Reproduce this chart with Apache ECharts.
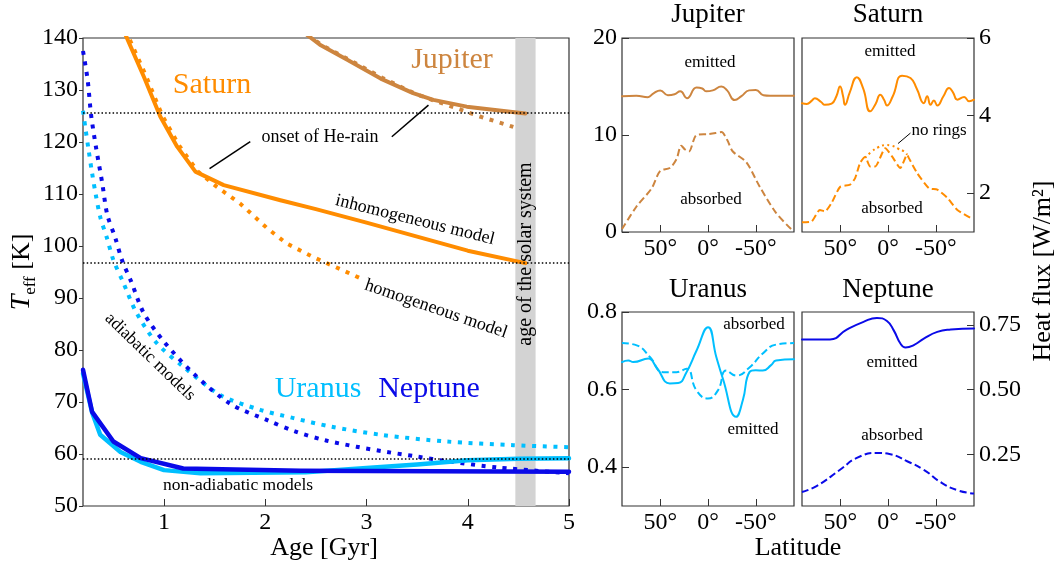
<!DOCTYPE html>
<html>
<head>
<meta charset="utf-8">
<script src="https://cdn.jsdelivr.net/npm/echarts@6/dist/echarts.min.js"></script>
<style>html,body{margin:0;padding:0;background:#fff;}#c{width:1061px;height:567px;}</style>
</head>
<body>
<div id="c"></div>
<script>
// ---------- DATA: main panel (Age [Gyr] vs Teff [K]) ----------
const jupInhAge = [2.40, 2.54, 2.81, 3.14, 3.46, 3.66, 3.99, 4.57];
const jupInhT   = [140.8, 138.7, 135.8, 132.2, 129.4, 128.1, 126.8, 125.5];
const jupHomAge = [2.42, 2.56, 2.83, 3.16, 3.48, 3.66, 3.89, 4.12, 4.45];
const jupHomT   = [140.6, 138.6, 135.8, 132.3, 129.3, 128.0, 126.5, 124.9, 122.9];
const satInhAge = [0.60, 0.80, 0.963, 1.13, 1.31, 1.59, 2.15, 2.5, 3.0, 3.5, 4.0, 4.57];
const satInhT   = [141.5, 132.6, 124.9, 119.1, 114.3, 111.7, 108.8, 107.1, 104.5, 101.8, 99.1, 96.7];
const satHomAge = [0.62, 0.82, 0.98, 1.15, 1.33, 1.52, 1.75, 2.02, 2.21, 2.47, 2.94];
const satHomT   = [141.5, 132.8, 125.2, 119.3, 114.4, 111.4, 108.2, 103.4, 100.5, 97.9, 93.8];
const uraAdiAge = [0.2, 0.225, 0.255, 0.29, 0.325, 0.37, 0.437, 0.5, 0.595, 0.73, 0.93, 1.19, 1.56, 1.95, 2.28, 2.64, 3.14, 3.79, 4.45, 5.0];
const uraAdiT   = [126.0, 122.5, 118.5, 114.0, 110.0, 105.6, 101.5, 97.3, 93.1, 87.1, 81.3, 76.8, 71.3, 68.5, 66.9, 65.3, 63.7, 62.4, 61.7, 61.3];
const nepAdiAge = [0.2, 0.246, 0.28, 0.33, 0.39, 0.44, 0.52, 0.585, 0.677, 0.80, 1.0, 1.29, 1.65, 2.02, 2.3, 2.6, 2.9, 3.2, 3.5, 3.8, 4.3, 5.0];
const nepAdiT   = [137.5, 131.9, 125.2, 118.8, 112.1, 106.0, 101.5, 97.3, 93.1, 87.1, 81.6, 75.5, 69.7, 66.5, 64.3, 62.6, 61.4, 60.4, 59.5, 58.6, 57.4, 56.3];
const uraNonAge = [0.2, 0.29, 0.37, 0.57, 0.77, 1.0, 1.36, 2.4, 3.0, 3.5, 4.0, 4.5, 5.0];
const uraNonT   = [75.5, 68.0, 63.7, 60.4, 58.5, 56.9, 56.3, 56.5, 57.3, 58.0, 58.8, 59.1, 59.2];
const nepNonAge = [0.2, 0.29, 0.5, 0.77, 1.19, 2.35, 5.0];
const nepNonT   = [76.2, 68.1, 62.4, 59.2, 57.2, 56.8, 56.6];
const observedTeff = [125.6, 96.7, 59.1];      // Jupiter, Saturn, Uranus/Neptune
const solarAgeBand = [4.47, 4.67];
const heRainPointers = [[[1.852, 120.06], [1.45, 114.9]], [[3.25, 121.0], [3.612, 127.1]]];
const ageTicks = [1, 2, 3, 4, 5];

// ---------- DATA: latitude panels ----------
const jupEmLat = [90, 75, 63, 57, 50, 42, 35, 29, 22, 12, 6, 2, -5, -14, -20, -28, -35, -43, -50, -58, -65, -90];
const jupEmVal = [14.0, 14.05, 13.9, 14.3, 14.6, 14.1, 14.2, 14.5, 13.8, 14.9, 14.8, 14.5, 14.6, 15.0, 14.6, 13.6, 14.0, 14.6, 14.65, 14.1, 14.05, 14.05];
const jupAbLat = [90, 75, 59, 50, 40, 33, 28, 24, 20, 12, 0, -8, -14, -20, -26, -40, -54, -71, -88];
const jupAbVal = [0.3, 2.6, 4.5, 6.3, 6.6, 7.5, 8.9, 8.5, 8.3, 10.0, 10.1, 10.2, 10.3, 9.5, 8.3, 7.2, 4.7, 2.0, 0.2];
const satEmLat = [90, 85, 80, 76.5, 70, 66, 59, 54, 50.2, 47, 45, 40, 32.6, 26, 18.6, 13, 8.1, 4, 1.1, -5, -14.7, -23.5, -30, -37.5, -41, -44.5, -48, -51.6, -58, -63.9, -68, -72.6, -79.7, -84.9, -90];
const satEmVal = [4.32, 4.30, 4.38, 4.45, 4.35, 4.28, 4.31, 4.5, 4.75, 4.5, 4.28, 4.6, 4.99, 4.7, 4.11, 4.3, 4.54, 4.4, 4.26, 4.5, 5.03, 4.97, 4.7, 4.32, 4.50, 4.28, 4.39, 4.26, 4.5, 4.71, 4.6, 4.41, 4.48, 4.37, 4.41];
const satAbLat = [90, 80, 71.3, 66, 59, 50.2, 39.7, 34.4, 29.2, 23.9, 18.6, 13.4, 2.8, -4.2, -12.9, -20, -21.7, -30.5, -42.8, -51.6, -62.1, -72.6, -86.7];
const satAbVal = [1.25, 1.27, 1.57, 1.53, 1.75, 2.16, 2.22, 2.39, 2.78, 2.93, 2.69, 2.69, 3.16, 2.95, 2.65, 2.99, 2.91, 2.52, 2.13, 2.09, 1.88, 1.57, 1.36];
const satNoRingLat = [23.9, 16.8, 9.8, 2.8, -4.2, -11.2, -16.5, -20];
const satNoRingVal = [2.91, 3.08, 3.19, 3.24, 3.22, 3.14, 3.08, 2.99];
const satNoRingPointer = [[-23.5, 3.55], [-10.5, 3.28]];
const uraEmLat = [90, 83.4, 78.2, 62.5, 53.8, 39.9, 31.2, 22.5, 12.1, 0, -8.7, -15.6, -29.5, -36.5, -43.4, -50, -57.3, -66, -71.2, -90];
const uraEmVal = [0.671, 0.675, 0.671, 0.680, 0.657, 0.616, 0.617, 0.645, 0.700, 0.761, 0.684, 0.628, 0.530, 0.573, 0.645, 0.650, 0.649, 0.663, 0.675, 0.678];
const uraAbLat = [90, 74.6, 60.8, 46.9, 33, 22.5, 12.1, 0, -10.4, -19.1, -29.5, -43.4, -57.3, -71.2, -90];
const uraAbVal = [0.720, 0.714, 0.684, 0.645, 0.645, 0.654, 0.598, 0.577, 0.598, 0.649, 0.636, 0.657, 0.693, 0.716, 0.720];
const nepEmLat = [90, 60.7, 43.2, 25.6, 11.6, 1.1, -6, -13, -18.3, -27, -37.5, -51.6, -65.7, -90];
const nepEmVal = [0.694, 0.694, 0.732, 0.762, 0.777, 0.765, 0.729, 0.678, 0.663, 0.672, 0.697, 0.723, 0.732, 0.736];
const nepAbLat = [90, 74.8, 50.2, 32.6, 11.6, -2.5, -20, -37.5, -55.1, -72.6, -90];
const nepAbVal = [0.104, 0.127, 0.19, 0.236, 0.255, 0.250, 0.223, 0.19, 0.142, 0.111, 0.098];
const latTicks = [50, 0, -50];

// ---------- styling ----------
const FONT = '"Liberation Serif", "Times New Roman", serif';
const C_JUP = '#cd853f', C_SAT = '#ff8c00', C_URA = '#00bfff', C_NEP = '#0a0ae8';
const zip = (a, b) => a.map((v, i) => [v, b[i]]);

const grids = [
  {left: 83, top: 38, width: 486, height: 468},
  {left: 622, top: 38, width: 172, height: 194},
  {left: 802, top: 38, width: 172, height: 194},
  {left: 622, top: 312, width: 172, height: 194},
  {left: 802, top: 312, width: 172, height: 194}
].map(g => Object.assign(g, {show: true, borderColor: '#333', borderWidth: 1.2, backgroundColor: 'transparent'}));

const lblStyle = {fontFamily: FONT, fontSize: 24, color: '#000'};
const noLine = {show: false, onZero: false};
function latAxis(gi) {
  return {type: 'value', gridIndex: gi, min: -90, max: 90, inverse: true, position: 'bottom',
    axisLine: noLine, splitLine: {show: false},
    axisTick: {show: true, inside: true, length: 7, customValues: latTicks, lineStyle: {color: '#333'}},
    axisLabel: Object.assign({show: true, margin: 5, customValues: latTicks, formatter: v => v + '°'}, lblStyle)};
}
function fluxAxis(gi, min, max, ticks, pos, fmt) {
  return {type: 'value', gridIndex: gi, min: min, max: max, position: pos,
    axisLine: noLine, splitLine: {show: false},
    axisTick: {show: true, inside: true, length: 7, customValues: ticks, lineStyle: {color: '#333'}},
    axisLabel: Object.assign({show: true, margin: 5, customValues: ticks, formatter: fmt}, lblStyle)};
}

const xAxes = [
  {type: 'value', gridIndex: 0, min: 0.2, max: 5, position: 'bottom',
    axisLine: noLine, splitLine: {show: false},
    axisTick: {show: true, inside: true, length: 7, customValues: ageTicks, lineStyle: {color: '#333'}},
    axisLabel: Object.assign({show: true, margin: 5, customValues: ageTicks}, lblStyle)},
  latAxis(1), latAxis(2), latAxis(3), latAxis(4)
];
const yAxes = [
  {type: 'value', gridIndex: 0, min: 50, max: 140, interval: 10, position: 'left',
    axisLine: noLine, splitLine: {show: false},
    axisTick: {show: true, inside: false, length: 4, lineStyle: {color: '#333'}},
    axisLabel: Object.assign({show: true, margin: 5}, lblStyle)},
  fluxAxis(1, 0, 20, [0, 10, 20], 'left', v => String(v)),
  fluxAxis(2, 1, 6, [2, 4, 6], 'right', v => String(v)),
  fluxAxis(3, 0.3, 0.8, [0.4, 0.6, 0.8], 'left', v => v.toFixed(1)),
  fluxAxis(4, 0.05, 0.8, [0.25, 0.5, 0.75], 'right', v => v.toFixed(2))
];

function line(gi, data, color, width, dash, smooth) {
  return {type: 'line', xAxisIndex: gi, yAxisIndex: gi, data: data, symbol: 'none', z: 3,
    smooth: smooth || false, silent: true, clip: true,
    lineStyle: {color: color, width: width, type: dash || 'solid', cap: dash ? 'butt' : 'round', join: 'round'}};
}
const DOT = [4, 6.6];
const series = [
  {type: 'line', xAxisIndex: 0, yAxisIndex: 0, data: [], z: 1, silent: true,
    markArea: {silent: true, itemStyle: {color: '#d3d3d3'}, data: [[{xAxis: solarAgeBand[0]}, {xAxis: solarAgeBand[1]}]]},
    markLine: {silent: true, symbol: ['none', 'none'], label: {show: false},
      lineStyle: {color: '#000', width: 1.5, type: [1.5, 2.2]},
      data: observedTeff.map(t => ({yAxis: t})).concat(
        heRainPointers.map(p => [{coord: p[0], lineStyle: {type: 'solid', width: 1.5, color: '#000'}}, {coord: p[1]}]))}},
  line(0, zip(jupHomAge, jupHomT), C_JUP, 4, DOT),
  line(0, zip(jupInhAge, jupInhT), C_JUP, 4),
  line(0, zip(satHomAge, satHomT), C_SAT, 4, DOT),
  line(0, zip(satInhAge, satInhT), C_SAT, 4),
  line(0, zip(uraAdiAge, uraAdiT), C_URA, 4, DOT, 0.3),
  line(0, zip(nepAdiAge, nepAdiT), C_NEP, 4, DOT, 0.3),
  line(0, zip(uraNonAge, uraNonT), C_URA, 4.5),
  line(0, zip(nepNonAge, nepNonT), C_NEP, 4.5),
  line(1, zip(jupEmLat, jupEmVal), C_JUP, 2, null, 0.5),
  line(1, zip(jupAbLat, jupAbVal), C_JUP, 2, [7, 3.5], 0.3),
  line(2, zip(satEmLat, satEmVal), C_SAT, 2, null, 0.5),
  line(2, zip(satAbLat, satAbVal), C_SAT, 2, [7, 3.5], 0.2),
  Object.assign(line(2, zip(satNoRingLat, satNoRingVal), C_SAT, 2, [2, 3.3], 0.5), {
    markLine: {silent: true, symbol: ['none', 'none'], label: {show: false},
      lineStyle: {color: '#000', width: 1, type: 'solid'},
      data: [[{coord: satNoRingPointer[0]}, {coord: satNoRingPointer[1]}]]}}),
  line(3, zip(uraEmLat, uraEmVal), C_URA, 2, null, 0.5),
  line(3, zip(uraAbLat, uraAbVal), C_URA, 2, [7, 3.5], 0.5),
  line(4, zip(nepEmLat, nepEmVal), C_NEP, 2, null, 0.5),
  line(4, zip(nepAbLat, nepAbVal), C_NEP, 2, [7, 3.5], 0.5)
];

function txt(x, y, text, size, color, rot, extra) {
  return {type: 'text', x: x, y: y, rotation: (rot || 0) * Math.PI / 180, z: 10, silent: true,
    style: Object.assign({text: text, fontFamily: FONT, fontSize: size, fill: color || '#000', align: 'center', verticalAlign: 'middle'}, extra || {})};
}
const graphics = [
  txt(212, 85, 'Saturn', 30, C_SAT),
  txt(452, 60, 'Jupiter', 30, C_JUP),
  txt(318, 389, 'Uranus', 30, C_URA),
  txt(429, 389, 'Neptune', 30, C_NEP),
  txt(320, 137, 'onset of He-rain', 18),
  txt(415, 220, 'inhomogeneous model', 18, '#000', -14),
  txt(436, 309, 'homogeneous model', 18, '#000', -19),
  txt(150, 357, 'adiabatic models', 17.5, '#000', -44),
  txt(238, 485, 'non-adiabatic models', 17.5),
  txt(526, 254, 'age of the solar system', 20, '#000', 90),
  txt(22, 272, '{i|T}{s|eff} [K]', 26, '#000', 90, {rich: {
    i: {fontFamily: FONT, fontSize: 28, fontStyle: 'italic', lineHeight: 34, verticalAlign: 'middle'},
    s: {fontFamily: FONT, fontSize: 17, lineHeight: 14, verticalAlign: 'bottom'}}}),
  txt(324, 548, 'Age [Gyr]', 26),
  txt(798, 548, 'Latitude', 26),
  txt(1043, 271, 'Heat flux [W/m²]', 26, '#000', 90),
  txt(708, 15, 'Jupiter', 27),
  txt(888, 15, 'Saturn', 27),
  txt(708, 290, 'Uranus', 27),
  txt(888, 290, 'Neptune', 27),
  txt(710, 63, 'emitted', 17),
  txt(711, 200, 'absorbed', 17),
  txt(890, 52, 'emitted', 17),
  txt(892, 209, 'absorbed', 17),
  txt(939, 131, 'no rings', 17),
  txt(754, 325, 'absorbed', 17),
  txt(753, 430, 'emitted', 17),
  txt(892, 363, 'emitted', 17),
  txt(892, 436, 'absorbed', 17)
];

const chart = echarts.init(document.getElementById('c'), null, {renderer: 'canvas'});
chart.setOption({
  animation: false,
  backgroundColor: '#fff',
  grid: grids,
  xAxis: xAxes,
  yAxis: yAxes,
  series: series,
  graphic: graphics
});
</script>
</body>
</html>
